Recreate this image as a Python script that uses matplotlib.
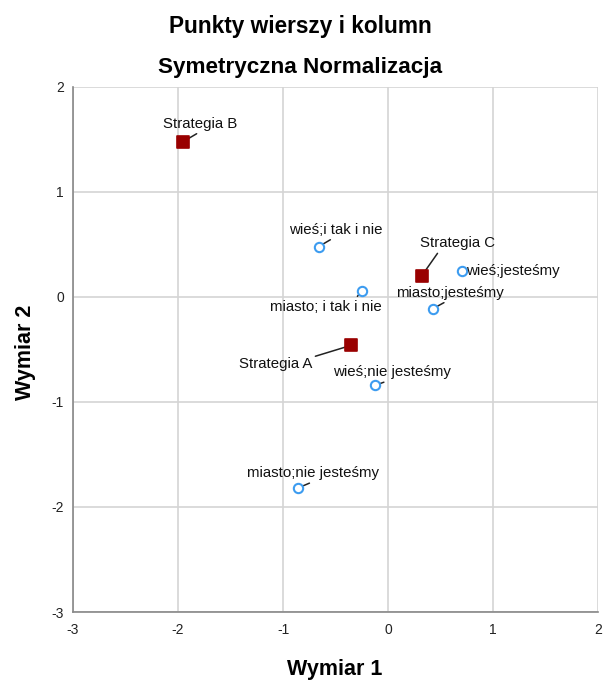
import matplotlib
matplotlib.use("Agg")
import matplotlib.pyplot as plt

plt.rcParams['font.family'] = ['Liberation Sans', 'DejaVu Sans']
plt.rcParams['axes.unicode_minus'] = False

# Data
strat_labels = ["Strategia A", "Strategia B", "Strategia C"]
strat_x = [-0.35, -1.95, 0.32]
strat_y = [-0.46, 1.48, 0.20]

pt_labels = ["wieś;i tak i nie", "miasto; i tak i nie", "wieś;jesteśmy",
             "miasto;jesteśmy", "wieś;nie jesteśmy", "miasto;nie jesteśmy"]
pt_x = [-0.66, -0.25, 0.70, 0.43, -0.12, -0.86]
pt_y = [0.48, 0.06, 0.25, -0.11, -0.84, -1.82]

ticks = [-3, -2, -1, 0, 1, 2]

# label placement (pixel offsets of text center, relpos of leader line)
strat_off = {"Strategia A": ((-76, -19), (1.0, 1.0)),
             "Strategia B": ((16.5, 18), (0.53, 0.0)),
             "Strategia C": ((35.5, 33), (0.27, 0.0))}
pt_off = {"wieś;i tak i nie": ((17, 17), (0.5, 0.0)),
          "miasto; i tak i nie": ((-36, -16), (0.76, 1.0)),
          "miasto;jesteśmy": ((16.5, 16), (0.5, 0.0)),
          "wieś;nie jesteśmy": ((17, 13), (0.5, 0.0)),
          "miasto;nie jesteśmy": ((15, 15), (0.53, 0.0))}

fig = plt.figure(figsize=(6.04, 6.81), dpi=100)
ax = fig.add_axes([73/604, 69/681, 525/604, 525/681])

ax.set_xlim(-3, 2)
ax.set_ylim(-3, 2)
ax.set_xticks(ticks)
ax.set_yticks(ticks)
ax.grid(True, color='#d4d4d4', linewidth=1.2)
ax.set_axisbelow(True)
for s in ['top', 'right']:
    ax.spines[s].set_visible(False)
for s in ['left', 'bottom']:
    ax.spines[s].set_color('#888888')
    ax.spines[s].set_linewidth(1.2)
ax.tick_params(axis='both', length=0, labelsize=10, colors='#222222')
ax.tick_params(axis='x', pad=8)
ax.tick_params(axis='y', pad=6.5)

ax.scatter(pt_x, pt_y, s=45, facecolor='white', edgecolor='#3d9cf0',
           linewidth=1.5, zorder=3)
ax.scatter(strat_x, strat_y, s=80, marker='s', facecolor='#990000',
           edgecolor='#990000', linewidth=1.2, zorder=4)

FS = 10.8

def lab(name, x, y, off, rel, shrinkB):
    ax.annotate(name, xy=(x, y), xytext=off, textcoords='offset pixels',
                ha='center', va='center', fontsize=FS, color='#111111',
                arrowprops=dict(arrowstyle='-', color='#222222', lw=1.1,
                                relpos=rel, shrinkA=0.5, shrinkB=shrinkB),
                zorder=2.5)

for n, x, y in zip(strat_labels, strat_x, strat_y):
    off, rel = strat_off[n]
    lab(n, x, y, off, rel, 3)
for n, x, y in zip(pt_labels, pt_x, pt_y):
    if n == "wieś;jesteśmy":
        ax.annotate(n, xy=(x, y), xytext=(5, 0), textcoords='offset pixels',
                    ha='left', va='center', fontsize=FS, color='#111111', zorder=5)
    else:
        off, rel = pt_off[n]
        lab(n, x, y, off, rel, 2.5)

fig.text(300/604, 1 - 27/681, "Punkty wierszy i kolumn", ha='center', va='center',
         fontsize=16.3, fontweight='bold')
fig.text(300/604, 1 - 67/681, "Symetryczna Normalizacja", ha='center', va='center',
         fontsize=16.2, fontweight='bold')
fig.text(335/604, 1 - 670/681, "Wymiar 1", ha='center', va='center',
         fontsize=15.5, fontweight='bold')
fig.text(25/604, 1 - 352/681, "Wymiar 2", ha='center', va='center',
         fontsize=15.5, fontweight='bold', rotation=90)

fig.savefig("out.png", dpi=100)
